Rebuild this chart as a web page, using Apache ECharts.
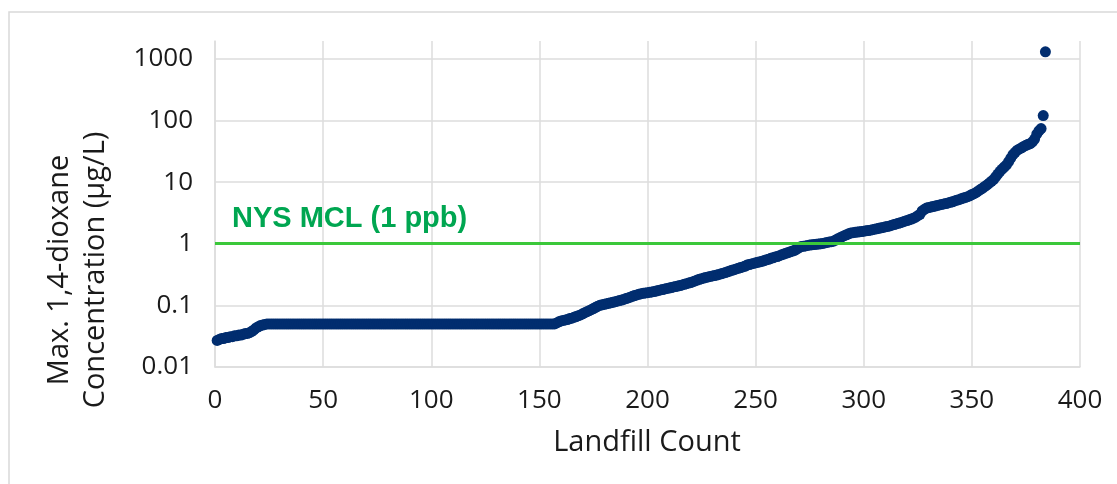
<!DOCTYPE html>
<html>
<head>
<meta charset="utf-8">
<script src="https://cdn.jsdelivr.net/npm/echarts@6/dist/echarts.min.js"></script>
<style>
html,body{margin:0;padding:0;background:#fff;}
#chart{width:1117px;height:484px;}
</style>
</head>
<body>
<div id="chart"></div>
<script>
// Max. 1,4-dioxane concentration (µg/L), sorted ascending, landfill count 1..384
const valuesLow = [
  0.027, 0.028, 0.029, 0.029, 0.030, 0.030, 0.031, 0.031, 0.032, 0.032,
  0.033, 0.033, 0.034, 0.035, 0.035, 0.036, 0.038, 0.040, 0.043, 0.045,
  0.047, 0.048, 0.049, 0.050
];
const valuesPlateau = [
  0.05,0.05,0.05,0.05,0.05,0.05,0.05,0.05,0.05,0.05,
  0.05,0.05,0.05,0.05,0.05,0.05,0.05,0.05,0.05,0.05,
  0.05,0.05,0.05,0.05,0.05,0.05,0.05,0.05,0.05,0.05,
  0.05,0.05,0.05,0.05,0.05,0.05,0.05,0.05,0.05,0.05,
  0.05,0.05,0.05,0.05,0.05,0.05,0.05,0.05,0.05,0.05,
  0.05,0.05,0.05,0.05,0.05,0.05,0.05,0.05,0.05,0.05,
  0.05,0.05,0.05,0.05,0.05,0.05,0.05,0.05,0.05,0.05,
  0.05,0.05,0.05,0.05,0.05,0.05,0.05,0.05,0.05,0.05,
  0.05,0.05,0.05,0.05,0.05,0.05,0.05,0.05,0.05,0.05,
  0.05,0.05,0.05,0.05,0.05,0.05,0.05,0.05,0.05,0.05,
  0.05,0.05,0.05,0.05,0.05,0.05,0.05,0.05,0.05,0.05,
  0.05,0.05,0.05,0.05,0.05,0.05,0.05,0.05,0.05,0.05,
  0.05,0.05,0.05,0.05,0.05,0.05,0.05,0.05,0.05,0.05,
  0.05,0.05,0.05
];
const valuesRise = [
  0.052, 0.054, 0.056,
  0.057, 0.058, 0.059, 0.061, 0.062,
  0.064, 0.066, 0.068, 0.070,
  0.073, 0.076, 0.079, 0.082, 0.085,
  0.089, 0.093, 0.097, 0.100,
  0.102, 0.104, 0.106, 0.108, 0.110,
  0.112, 0.115, 0.117, 0.120, 0.122,
  0.125, 0.129, 0.132, 0.136, 0.140,
  0.144, 0.148, 0.151, 0.155,
  0.157, 0.159, 0.161, 0.163, 0.165,
  0.168, 0.171, 0.175, 0.178,
  0.181, 0.185, 0.188, 0.191, 0.195,
  0.199, 0.202, 0.206, 0.210,
  0.215, 0.220, 0.225, 0.230, 0.235,
  0.242, 0.249, 0.257, 0.265,
  0.271, 0.277, 0.284, 0.290,
  0.295, 0.300, 0.305, 0.310,
  0.318, 0.325, 0.333, 0.341, 0.350,
  0.36, 0.37, 0.38, 0.39, 0.40,
  0.41, 0.42, 0.43, 0.45, 0.46, 0.47,
  0.48, 0.49, 0.50, 0.51, 0.52, 0.535, 0.55,
  0.56, 0.58, 0.59, 0.61, 0.62, 0.64, 0.66, 0.68,
  0.70, 0.72, 0.74, 0.76, 0.78,
  0.82, 0.86, 0.90,
  0.91, 0.92, 0.94, 0.95,
  0.96, 0.97, 0.98, 0.99, 1.0,
  1.01, 1.03, 1.05, 1.07, 1.08, 1.1
];
const valuesHigh = [
  1.15, 1.2, 1.25, 1.3,
  1.35, 1.4, 1.45, 1.5,
  1.51, 1.53, 1.55, 1.56, 1.58, 1.6,
  1.62, 1.64, 1.66, 1.69, 1.72, 1.75,
  1.78, 1.81, 1.84, 1.88, 1.91, 1.95,
  2.0, 2.05, 2.1, 2.15, 2.2,
  2.26, 2.32, 2.38, 2.45, 2.52, 2.6,
  2.7, 2.85, 3.0,
  3.4, 3.6, 3.8,
  3.87, 3.94, 4.02, 4.1,
  4.18, 4.26, 4.34, 4.42, 4.5,
  4.6, 4.7, 4.8, 4.95, 5.1,
  5.2, 5.35, 5.5, 5.65, 5.8,
  6.0, 6.3, 6.5, 6.8,
  7.2, 7.6, 8.0, 8.5,
  9.0, 9.6, 10.3, 11,
  12.2, 13.5, 15,
  16.3, 17.6, 19,
  21.5, 24.5, 28,
  30.5, 33,
  34.5, 36, 38,
  39.5, 41, 42,
  45, 50, 60, 68, 74,
  120, 1300
];
const concentrations = valuesLow.concat(valuesPlateau, valuesRise, valuesHigh);
const xTicks = [0, 50, 100, 150, 200, 250, 300, 350, 400];
const yTickLabels = ['0.01', '0.1', '1', '10', '100', '1000'];
const mclValue = 1;
const mclLabel = 'NYS MCL (1 ppb)';
const xTitle = 'Landfill Count';
const yTitle = 'Max. 1,4-dioxane\nConcentration (µg/L)';

const points = concentrations.map((v, i) => [i + 1, v]);

const chart = echarts.init(document.getElementById('chart'), null, {renderer: 'canvas'});
const gridColor = '#DDDDDD';
const font = '"Open Sans", "Noto Sans", sans-serif';

chart.setOption({
  animation: false,
  backgroundColor: '#ffffff',
  grid: {left: 215, right: 37, top: 41, bottom: 117, containLabel: false},
  xAxis: {
    type: 'value',
    min: xTicks[0],
    max: xTicks[xTicks.length - 1],
    interval: 50,
    axisLine: {show: true, lineStyle: {color: gridColor, width: 1.5}},
    axisTick: {show: false},
    axisLabel: {color: '#1a1a1a', fontSize: 26, fontFamily: font, margin: 21},
    splitLine: {show: true, lineStyle: {color: gridColor, width: 1.5}}
  },
  yAxis: {
    type: 'log',
    logBase: 10,
    min: 0.01,
    max: 1950,
    axisLine: {show: true, lineStyle: {color: gridColor, width: 1.5}},
    axisTick: {show: false},
    axisLabel: {
      color: '#1a1a1a', fontSize: 26, fontFamily: font, margin: 22,
      showMaxLabel: false,
      formatter: function (v) {
        const e = Math.round(Math.log10(v));
        const s = yTickLabels[e + 2];
        return (Math.abs(Math.log10(v) - e) < 1e-6 && s) ? s : '';
      }
    },
    splitLine: {show: true, showMaxLine: false, lineStyle: {color: gridColor, width: 1.5}}
  },
  series: [{
    type: 'scatter',
    data: points,
    symbol: 'circle',
    symbolSize: 11,
    clip: false,
    itemStyle: {color: '#012D6F', opacity: 1},
    markLine: {
      silent: true,
      symbol: 'none',
      animation: false,
      lineStyle: {color: '#3BC83A', width: 3, type: 'solid'},
      label: {
        show: true,
        position: 'insideStartTop',
        formatter: mclLabel,
        color: '#00A651',
        fontSize: 29,
        fontWeight: 'bold',
        fontFamily: '"Liberation Sans", Arial, sans-serif',
        distance: [17, 10]
      },
      data: [{yAxis: mclValue}]
    },
    z: 3
  }],
  graphic: [
    {
      type: 'rect', silent: true, z: -1,
      shape: {x: 9, y: 12, width: 1200, height: 600},
      style: {fill: 'none', stroke: '#D9D9D9', lineWidth: 1.5}
    },
    {
      type: 'text', silent: true,
      x: 647, y: 443,
      style: {text: xTitle, fill: '#1a1a1a', font: '29px ' + font, textAlign: 'center', textVerticalAlign: 'middle'}
    },
    {
      type: 'text', silent: true,
      x: 78, y: 270, rotation: Math.PI / 2,
      style: {text: yTitle, fill: '#1a1a1a', font: '29px ' + font, textAlign: 'center', textVerticalAlign: 'middle', lineHeight: 36}
    }
  ]
});
</script>
</body>
</html>
